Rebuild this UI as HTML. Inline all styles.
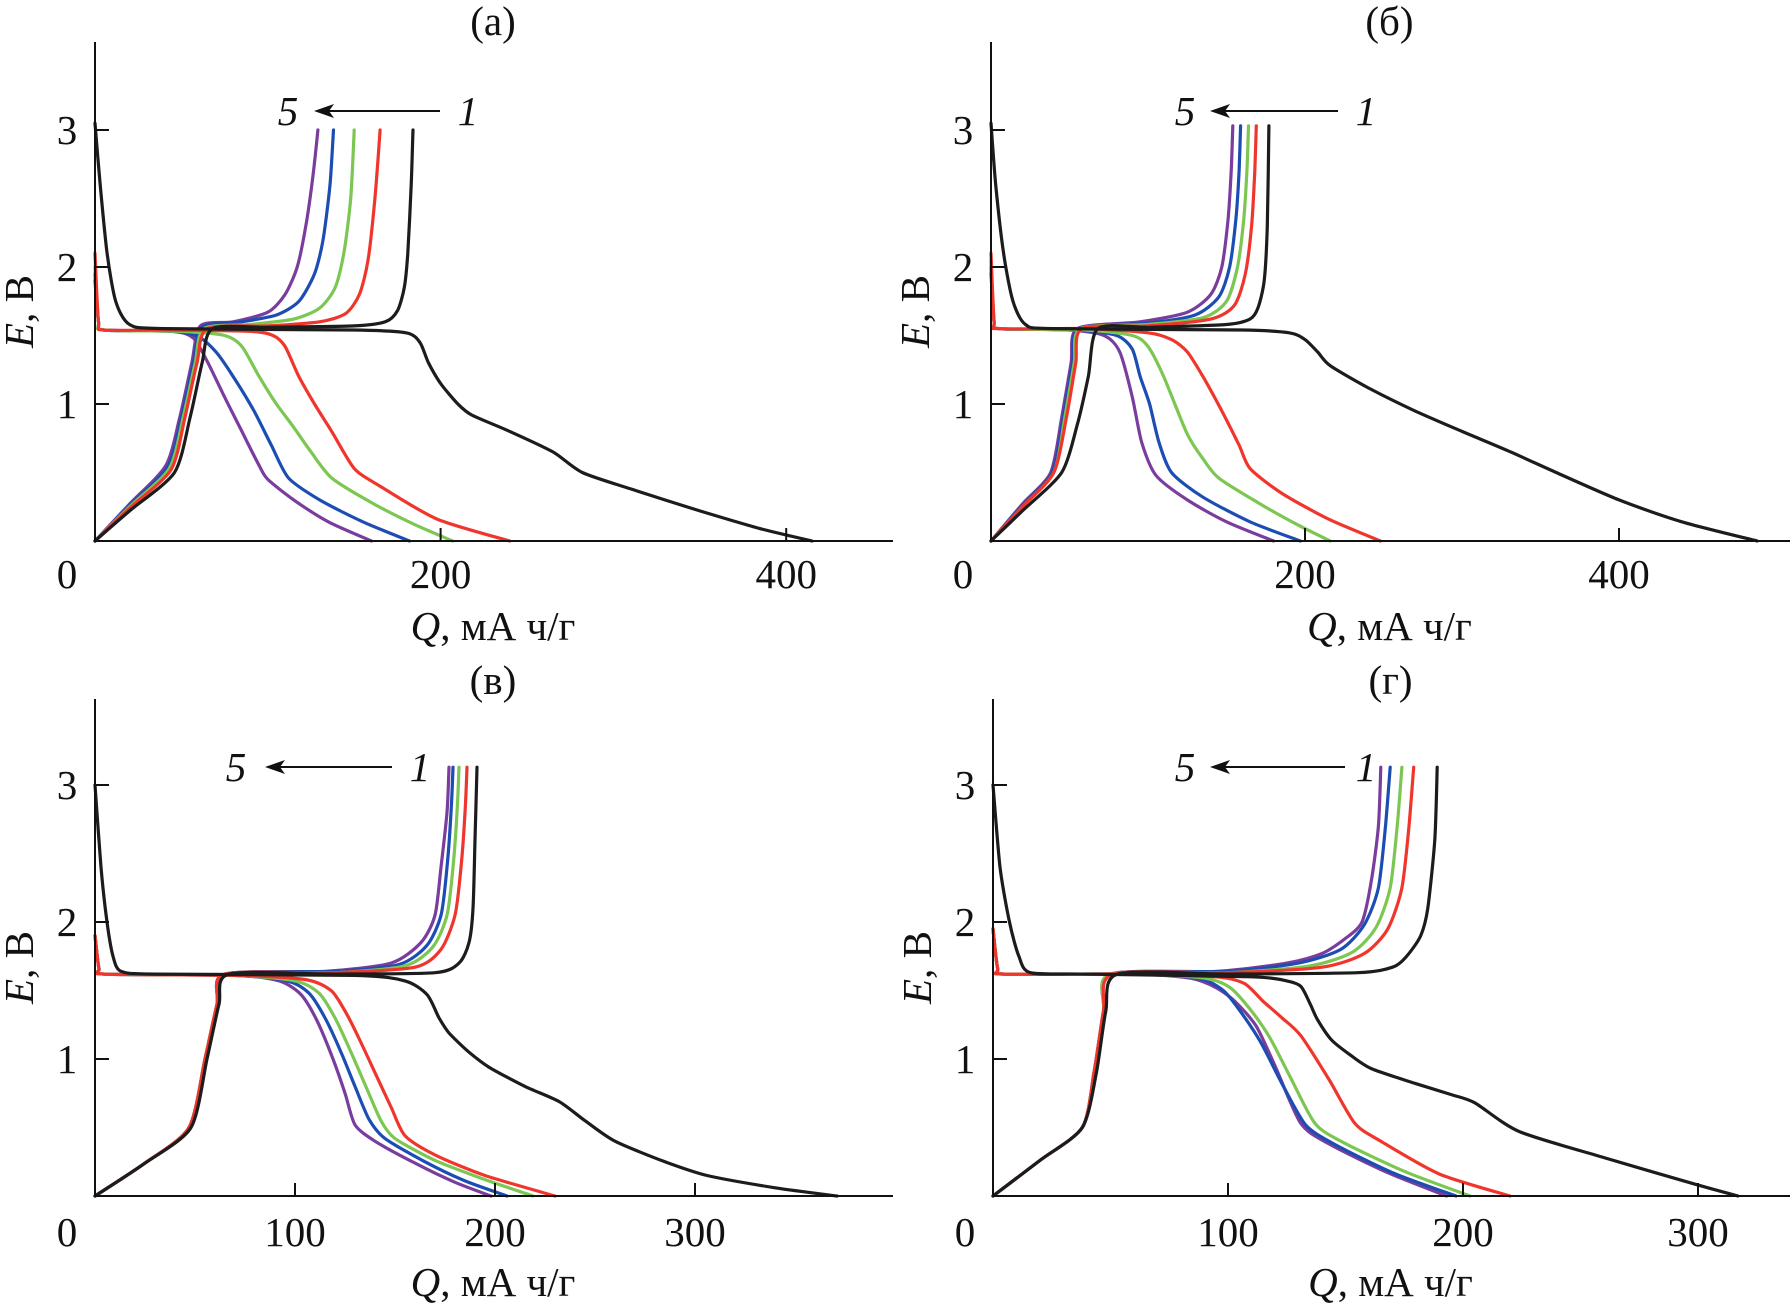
<!DOCTYPE html>
<html><head><meta charset="utf-8"><style>
html,body{margin:0;padding:0;background:#fff;}
svg{display:block;font-family:"Liberation Serif",serif;}
</style></head><body>
<svg id="fig" width="1790" height="1307" viewBox="0 0 1790 1307" xmlns="http://www.w3.org/2000/svg"></svg>
<script>
// ---------- DATA (Q in mAh/g, E in V) ----------
const colors = ["#1c1c1c","#f0362c","#7cc652","#1b4db3","#7a3d9e"];
const cycleLabels = ["1","2","3","4","5"];
const xTicksA = [200,400];
const xTicksB = [200,400];
const xTicksC = [100,200,300];
const xTicksD = [100,200,300];
const yTicks = [1,2,3];

const dischargeA = [
 [[0,3.05],[3,2.6],[7,2.1],[12,1.75],[20,1.58],[40,1.55],[150,1.54],[180,1.52],[188,1.45],[193,1.3],[200,1.15],[210,1.0],[218,0.92],[240,0.8],[265,0.65],[282,0.5],[310,0.38],[350,0.22],[385,0.09],[415,0]],
 [[0,2.1],[2,1.6],[5,1.54],[40,1.54],[90,1.53],[103,1.5],[110,1.42],[118,1.2],[127,1.0],[137,0.8],[150,0.53],[165,0.4],[198,0.16],[240,0]],
 [[0,2.0],[2,1.6],[5,1.54],[50,1.53],[75,1.5],[85,1.42],[95,1.2],[105,1.0],[115,0.83],[125,0.65],[137,0.46],[160,0.28],[185,0.12],[207,0]],
 [[0,1.95],[2,1.6],[5,1.54],[45,1.53],[60,1.49],[70,1.38],[80,1.2],[92,0.95],[102,0.7],[112,0.46],[130,0.3],[155,0.14],[182,0]],
 [[0,1.9],[2,1.6],[5,1.54],[45,1.53],[57,1.48],[65,1.31],[75,1.05],[85,0.8],[95,0.55],[100,0.45],[115,0.3],[135,0.14],[160,0]]
];
const chargeA = [
 [[0,0],[20,0.22],[46,0.5],[55,0.9],[62,1.3],[68,1.55],[100,1.56],[150,1.57],[168,1.6],[175,1.68],[179,1.85],[181,2.1],[183,2.6],[184,3.0]],
 [[0,0],[20,0.24],[44,0.52],[52,0.9],[59,1.3],[65,1.55],[100,1.57],[130,1.6],[145,1.66],[153,1.8],[158,2.05],[162,2.5],[165,3.0]],
 [[0,0],[20,0.25],[43,0.53],[51,0.9],[58,1.3],[63,1.55],[90,1.58],[115,1.62],[130,1.7],[139,1.85],[144,2.1],[148,2.5],[150,3.0]],
 [[0,0],[20,0.26],[42,0.54],[50,0.9],[57,1.3],[62,1.56],[85,1.6],[105,1.65],[118,1.75],[127,1.95],[132,2.2],[136,2.6],[138,3.0]],
 [[0,0],[20,0.27],[41,0.55],[49,0.9],[56,1.3],[61,1.57],[80,1.6],[100,1.67],[110,1.8],[117,2.0],[122,2.3],[126,2.65],[129,3.0]]
];
const dischargeB = [
 [[0,3.05],[3,2.6],[8,2.1],[14,1.75],[22,1.58],[40,1.55],[160,1.54],[190,1.52],[200,1.47],[208,1.38],[216,1.28],[240,1.12],[270,0.95],[300,0.8],[329,0.66],[360,0.5],[400,0.3],[440,0.14],[488,0]],
 [[0,2.1],[2,1.6],[5,1.55],[60,1.55],[100,1.52],[115,1.47],[125,1.38],[135,1.2],[147,0.95],[158,0.7],[165,0.53],[185,0.35],[215,0.16],[248,0]],
 [[0,2.05],[2,1.6],[5,1.55],[60,1.54],[90,1.5],[100,1.42],[110,1.2],[125,0.78],[135,0.6],[145,0.46],[170,0.28],[195,0.12],[216,0]],
 [[0,2.0],[2,1.6],[5,1.55],[55,1.54],[80,1.5],[90,1.4],[95,1.2],[101,1.0],[107,0.72],[115,0.5],[135,0.32],[165,0.14],[197,0]],
 [[0,1.95],[2,1.6],[5,1.55],[50,1.54],[72,1.5],[82,1.38],[90,1.05],[96,0.72],[105,0.48],[125,0.3],[150,0.14],[180,0]]
];
const chargeB = [
 [[0,0],[20,0.22],[45,0.5],[55,0.85],[62,1.2],[68,1.55],[100,1.56],[150,1.58],[165,1.62],[170,1.7],[174,1.9],[176,2.3],[177,3.03]],
 [[0,0],[20,0.25],[40,0.5],[48,0.9],[54,1.3],[58,1.55],[100,1.57],[140,1.62],[155,1.72],[162,1.95],[166,2.3],[168,2.7],[169,3.03]],
 [[0,0],[20,0.25],[40,0.5],[47,0.9],[53,1.3],[57,1.55],[100,1.58],[135,1.63],[150,1.75],[157,2.0],[161,2.35],[163,2.7],[164,3.03]],
 [[0,0],[20,0.26],[39,0.5],[46,0.9],[52,1.3],[56,1.55],[100,1.59],[130,1.65],[145,1.78],[152,2.0],[156,2.35],[158,2.7],[159,3.03]],
 [[0,0],[20,0.27],[38,0.5],[45,0.9],[51,1.3],[55,1.55],[95,1.6],[125,1.67],[140,1.8],[147,2.0],[151,2.35],[153,2.7],[154,3.03]]
];
const dischargeC = [
 [[0,3.0],[3,2.4],[6,2.0],[9,1.75],[13,1.64],[30,1.62],[130,1.61],[155,1.57],[166,1.47],[172,1.3],[177,1.19],[187,1.05],[197,0.94],[215,0.8],[232,0.69],[245,0.55],[260,0.4],[285,0.25],[306,0.15],[340,0.06],[371,0]],
 [[0,1.9],[2,1.66],[5,1.62],[70,1.61],[105,1.58],[118,1.5],[125,1.35],[132,1.15],[140,0.9],[148,0.65],[155,0.44],[170,0.3],[195,0.15],[230,0]],
 [[0,1.9],[2,1.66],[5,1.62],[70,1.61],[100,1.57],[112,1.48],[120,1.3],[128,1.05],[136,0.78],[143,0.55],[150,0.42],[170,0.26],[195,0.12],[219,0]],
 [[0,1.9],[2,1.66],[5,1.62],[70,1.61],[96,1.57],[107,1.48],[115,1.3],[123,1.05],[130,0.8],[137,0.56],[145,0.42],[165,0.25],[185,0.11],[206,0]],
 [[0,1.9],[2,1.66],[5,1.62],[70,1.61],[92,1.57],[103,1.47],[111,1.28],[119,1.0],[125,0.75],[130,0.52],[140,0.4],[160,0.24],[180,0.1],[198,0]]
];
const chargeC = [
 [[0,0],[25,0.24],[48,0.5],[56,1.0],[62,1.4],[67,1.62],[120,1.62],[170,1.63],[182,1.7],[187,1.85],[189,2.1],[190,2.6],[191,3.13]],
 [[0,0],[25,0.24],[47,0.5],[55,1.0],[61,1.4],[65,1.62],[120,1.63],[160,1.67],[173,1.8],[180,2.05],[183,2.4],[185,2.8],[186,3.13]],
 [[0,0],[25,0.24],[47,0.5],[55,1.0],[61,1.4],[65,1.62],[120,1.63],[155,1.68],[169,1.82],[176,2.05],[179,2.4],[181,2.8],[182,3.13]],
 [[0,0],[25,0.24],[47,0.5],[55,1.0],[61,1.4],[65,1.62],[120,1.64],[152,1.69],[166,1.83],[173,2.05],[176,2.4],[178,2.8],[179,3.13]],
 [[0,0],[25,0.24],[47,0.5],[55,1.0],[61,1.4],[65,1.62],[115,1.64],[148,1.7],[163,1.85],[170,2.05],[173,2.4],[176,2.8],[177,3.13]]
];
const dischargeD = [
 [[0,3.0],[3,2.4],[7,2.0],[11,1.75],[16,1.63],[40,1.62],[110,1.6],[125,1.57],[131,1.53],[135,1.4],[138,1.29],[144,1.14],[152,1.03],[161,0.93],[180,0.82],[195,0.74],[205,0.68],[224,0.47],[260,0.28],[298,0.09],[317,0]],
 [[0,1.95],[2,1.66],[5,1.62],[60,1.62],[95,1.6],[107,1.55],[115,1.42],[123,1.3],[131,1.17],[143,0.85],[154,0.53],[165,0.4],[190,0.16],[220,0]],
 [[0,1.95],[2,1.66],[5,1.62],[60,1.62],[90,1.59],[101,1.52],[110,1.35],[118,1.15],[127,0.85],[137,0.53],[148,0.4],[175,0.18],[203,0]],
 [[0,1.95],[2,1.66],[5,1.62],[60,1.62],[87,1.59],[98,1.5],[106,1.33],[114,1.12],[123,0.82],[133,0.52],[145,0.38],[170,0.17],[197,0]],
 [[0,1.95],[2,1.66],[5,1.62],[60,1.62],[84,1.59],[95,1.52],[103,1.42],[112,1.24],[120,0.95],[131,0.53],[143,0.38],[168,0.17],[193,0]]
];
const chargeD = [
 [[0,0],[20,0.26],[38,0.5],[44,0.9],[48,1.35],[53,1.62],[100,1.62],[155,1.63],[170,1.67],[176,1.75],[182,1.9],[185,2.1],[188,2.6],[189,3.13]],
 [[0,0],[20,0.26],[38,0.5],[43,0.9],[47,1.35],[51,1.62],[100,1.63],[140,1.67],[158,1.77],[168,1.95],[174,2.25],[177,2.7],[179,3.13]],
 [[0,0],[20,0.26],[38,0.5],[43,0.9],[47,1.35],[50,1.62],[100,1.63],[135,1.68],[153,1.78],[163,1.96],[169,2.25],[172,2.7],[174,3.13]],
 [[0,0],[20,0.26],[38,0.5],[43,0.9],[47,1.35],[50,1.62],[100,1.64],[130,1.7],[148,1.8],[158,1.98],[164,2.25],[167,2.7],[169,3.13]],
 [[0,0],[20,0.26],[38,0.5],[43,0.9],[47,1.35],[50,1.62],[95,1.64],[125,1.7],[140,1.77],[150,1.88],[157,2.0],[161,2.3],[164,2.7],[165,3.13]]
];

// ---------- RENDER ----------
const NS = "http://www.w3.org/2000/svg";
const svg = document.getElementById("fig");
const FS = 41;
function mk(tag, attrs, parent){
  const e = document.createElementNS(NS, tag);
  for (const k in attrs) e.setAttribute(k, attrs[k]);
  (parent||svg).appendChild(e);
  return e;
}
function smoothPath(pts){
  let d = "M" + pts[0][0].toFixed(1) + "," + pts[0][1].toFixed(1);
  for (let i=0;i<pts.length-1;i++){
    const p0 = pts[Math.max(0,i-1)], p1 = pts[i], p2 = pts[i+1], p3 = pts[Math.min(pts.length-1,i+2)];
    const t = 1/8;
    const c1 = [p1[0]+(p2[0]-p0[0])*t, p1[1]+(p2[1]-p0[1])*t];
    const c2 = [p2[0]-(p3[0]-p1[0])*t, p2[1]-(p3[1]-p1[1])*t];
    d += " C"+c1[0].toFixed(1)+","+c1[1].toFixed(1)+" "+c2[0].toFixed(1)+","+c2[1].toFixed(1)+" "+p2[0].toFixed(1)+","+p2[1].toFixed(1);
  }
  return d;
}
const panels = [
 {id:"a", title:"(а)", x0:95, sx:1.728, y0:541, sy:137, right:893, top:42, xt:xTicksA, dis:dischargeA, chg:chargeA, titleY:35, tickLblY:588, axTitleY:640, arrow:{n5:288,x1:440,x2:314,n1:468,y:111}},
 {id:"b", title:"(б)", x0:991, sx:1.57, y0:541, sy:137, right:1790, top:42, xt:xTicksB, dis:dischargeB, chg:chargeB, titleY:35, tickLblY:588, axTitleY:640, arrow:{n5:1185,x1:1338,x2:1210,n1:1366,y:111}},
 {id:"c", title:"(в)", x0:95, sx:2.0, y0:1196, sy:137, right:893, top:699, xt:xTicksC, dis:dischargeC, chg:chargeC, titleY:694, tickLblY:1246, axTitleY:1296, arrow:{n5:236,x1:392,x2:265,n1:420,y:767}},
 {id:"d", title:"(г)", x0:993, sx:2.35, y0:1196, sy:137, right:1790, top:699, xt:xTicksD, dis:dischargeD, chg:chargeD, titleY:694, tickLblY:1246, axTitleY:1296, arrow:{n5:1185,x1:1345,x2:1210,n1:1366,y:767}}
];
panels.forEach(p=>{
  const g = mk("g",{});
  
  
  const X = q => p.x0 + q*p.sx;
  const Y = e => p.y0 - e*p.sy;
  const cx = (p.x0 + p.right)/2 - 1;
  const tt = mk("text",{x:cx, y:p.titleY, "font-size":FS, "text-anchor":"middle", fill:"#111"}, g);
  tt.textContent = p.title;
  
  
  const cg = mk("g",{fill:"none","stroke-width":3.2,"stroke-linejoin":"round","stroke-linecap":"round"}, g);
  for (let i=p.dis.length-1;i>=0;i--){
    const pd = mk("path",{d:smoothPath(p.dis[i].map(v=>[X(v[0]),Y(v[1])])), stroke:colors[i]}, cg);
    
    
    const pc = mk("path",{d:smoothPath(p.chg[i].map(v=>[X(v[0]),Y(v[1])])), stroke:colors[i]}, cg);
    
    
  }
  const ya = mk("line",{x1:p.x0, y1:p.top, x2:p.x0, y2:p.y0, stroke:"#111","stroke-width":2}, g);
  
  
  const xa = mk("line",{x1:p.x0, y1:p.y0, x2:p.right, y2:p.y0, stroke:"#111","stroke-width":2}, g);
  
  
  yTicks.forEach(v=>{
    const tk = mk("line",{x1:p.x0, y1:Y(v), x2:p.x0+14, y2:Y(v), stroke:"#111","stroke-width":2}, g);
    
    
    const tl = mk("text",{x:p.x0-28, y:Y(v)+14, "font-size":FS, "text-anchor":"middle", fill:"#111"}, g);
    tl.textContent = String(v);
    
    
  });
  const z = mk("text",{x:p.x0-28, y:p.tickLblY, "font-size":FS, "text-anchor":"middle", fill:"#111"}, g);
  z.textContent = "0";
  
  
  p.xt.forEach(v=>{
    const tk = mk("line",{x1:X(v), y1:p.y0, x2:X(v), y2:p.y0-13, stroke:"#111","stroke-width":2}, g);
    
    
    const tl = mk("text",{x:X(v), y:p.tickLblY, "font-size":FS, "text-anchor":"middle", fill:"#111"}, g);
    tl.textContent = String(v);
    
    
  });
  const xt = mk("text",{x:cx, y:p.axTitleY, "font-size":FS, "text-anchor":"middle", fill:"#111"}, g);
  xt.innerHTML = '<tspan font-style="italic">Q</tspan>, мА ч/г';
  
  
  const yc = (p.top + p.y0)/2 + 20;
  const yt = mk("text",{x:0, y:0, "font-size":FS, "text-anchor":"middle", fill:"#111", transform:"translate("+(p.x0-62)+","+yc+") rotate(-90)"}, g);
  yt.innerHTML = '<tspan font-style="italic">E</tspan>, В';
  
  
  const a = p.arrow;
  const l5 = mk("text",{x:a.n5, y:a.y+14, "font-size":FS, "font-style":"italic", "text-anchor":"middle", fill:"#111"}, g);
  l5.textContent = "5";
  
  
  const l1 = mk("text",{x:a.n1, y:a.y+14, "font-size":FS, "font-style":"italic", "text-anchor":"middle", fill:"#111"}, g);
  l1.textContent = "1";
  
  
  const al = mk("line",{x1:a.x1, y1:a.y, x2:a.x2+12, y2:a.y, stroke:"#111","stroke-width":2}, g);
  
  
  const ah = mk("polygon",{points:a.x2+","+a.y+" "+(a.x2+20)+","+(a.y-7)+" "+(a.x2+15)+","+a.y+" "+(a.x2+20)+","+(a.y+7), fill:"#111"}, g);
  
  
});
</script>
</body></html>
